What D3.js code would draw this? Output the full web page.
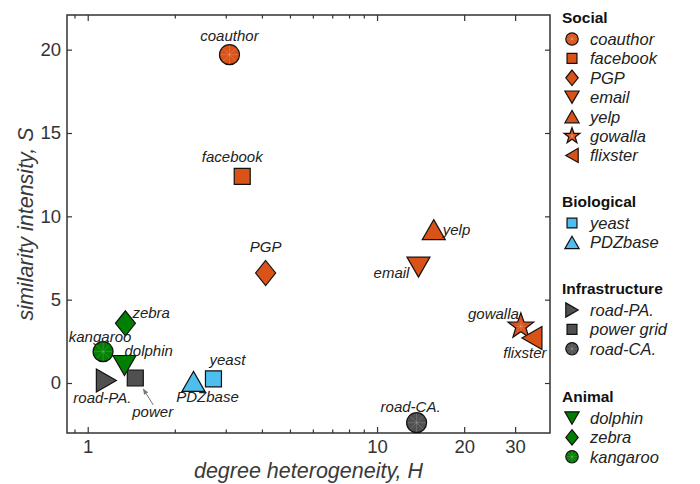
<!DOCTYPE html>
<html>
<head>
<meta charset="utf-8">
<script src="https://cdn.jsdelivr.net/npm/d3@7"></script>
<style>
  body { margin: 0; background: #fff; }
  svg text { font-family: "Liberation Sans", Arial, Helvetica, sans-serif; }
  .axis text { font-size: 18.5px; fill: #333; }
  .axis line { stroke: #333; stroke-width: 1.2; }
  .axis path { display: none; }
  .pt-label { font-size: 15px; font-style: italic; fill: #222; }
  .axis-title { font-size: 21.5px; font-style: italic; fill: #3a3a3a; }
  .leg-title { font-size: 15.5px; font-weight: bold; fill: #111; }
  .leg-item { font-size: 16.5px; font-style: italic; fill: #222; }
</style>
</head>
<body>
<div id="chart"></div>
<script>
// network data
const names = ['coauthor', 'facebook', 'PGP', 'email', 'yelp', 'gowalla', 'flixster',
    'yeast', 'PDZbase',
    'road-PA.', 'power', 'road-CA.',
    'dolphin', 'zebra', 'kangaroo'];
const groups = ['Social', 'Social', 'Social', 'Social', 'Social', 'Social', 'Social',
    'Biological', 'Biological',
    'Infrastructure', 'Infrastructure', 'Infrastructure',
    'Animal', 'Animal', 'Animal'];
const hetero = [3.09, 3.42, 4.12, 13.9, 15.7, 31.4, 34.3,
    2.72, 2.32,
    1.16, 1.46, 13.7,
    1.34, 1.35, 1.13];
const similarity = [19.7, 12.4, 6.6, 6.95, 9.2, 3.4, 2.7,
    0.25, 0.1,
    0.15, 0.3, -2.38,
    1.05, 3.58, 1.88];
const shapes = ['circle', 'square', 'diamond', 'tri-down', 'tri-up', 'star', 'tri-left',
    'square', 'tri-up',
    'tri-right', 'square', 'circle',
    'tri-down', 'diamond', 'circle'];

const groupNames = ['Social', 'Biological', 'Infrastructure', 'Animal'];
const groupColors = ['#d95319', '#4dbeee', '#505050', '#007f00'];
const legendNames = {
    Social: ['coauthor', 'facebook', 'PGP', 'email', 'yelp', 'gowalla', 'flixster'],
    Biological: ['yeast', 'PDZbase'],
    Infrastructure: ['road-PA.', 'power grid', 'road-CA.'],
    Animal: ['dolphin', 'zebra', 'kangaroo']
};
const legendShapes = {
    Social: ['circle', 'square', 'diamond', 'tri-down', 'tri-up', 'star', 'tri-left'],
    Biological: ['square', 'tri-up'],
    Infrastructure: ['tri-right', 'square', 'circle'],
    Animal: ['tri-down', 'diamond', 'circle']
};

const xMajor = [1, 10, 20, 30];
const xMinor = [0.9, 2, 3, 4, 5, 6, 7, 8, 9];
const yTicks = [0, 5, 10, 15, 20];

// label placement around each point: [dx, dy, anchor]
const labelPos = {
    'coauthor': [0, -14, 'middle'], 'facebook': [-10, -14, 'middle'], 'PGP': [0, -21, 'middle'],
    'email': [-9, 11, 'end'], 'yelp': [9, 5, 'start'], 'gowalla': [-2, -7, 'end'],
    'flixster': [-7, 20, 'middle'], 'yeast': [-4, -14, 'start'], 'PDZbase': [14, 21, 'middle'],
    'road-PA.': [-4, 22, 'middle'], 'power': [-3, 39, 'start'], 'road-CA.': [-6, -11, 'middle'],
    'dolphin': [0, -10, 'start'], 'zebra': [7, -5, 'start'], 'kangaroo': [-3, -10, 'middle']
};

const W = 700, H = 484;
const plot = {left: 67, right: 550, top: 15, bottom: 433};

const svg = d3.select('#chart').append('svg')
    .attr('width', W)
    .attr('height', H);

const xScale = d3.scaleLog().domain([0.848, 39.6]).range([plot.left, plot.right]);
const yScale = d3.scaleLinear().domain([-3, 22.08]).range([plot.bottom, plot.top]);

// marker path generator, k scales the whole marker
function markerPath(shape, k) {
    const p = d3.path();
    if (shape === 'circle') {
        const r = 10 * k;
        p.arc(0, 0, r, 0, 2 * Math.PI);
    } else if (shape === 'square') {
        const s = 8 * k;
        p.rect(-s, -s, 2 * s, 2 * s);
    } else if (shape === 'diamond') {
        const w = 10 * k, h = 12.5 * k;
        p.moveTo(0, -h); p.lineTo(w, 0); p.lineTo(0, h); p.lineTo(-w, 0); p.closePath();
    } else if (shape === 'tri-up' || shape === 'tri-down') {
        const w = 11.5 * k, h = 10 * k, s = shape === 'tri-up' ? 1 : -1;
        p.moveTo(0, -h * s); p.lineTo(w, h * s); p.lineTo(-w, h * s); p.closePath();
    } else if (shape === 'tri-left' || shape === 'tri-right') {
        const w = 10 * k, h = 11.5 * k, s = shape === 'tri-right' ? 1 : -1;
        p.moveTo(w * s, 0); p.lineTo(-w * s, h); p.lineTo(-w * s, -h); p.closePath();
    } else if (shape === 'star') {
        const ro = 13.5 * k, ri = 5.4 * k;
        for (let i = 0; i < 10; i++) {
            const a = -Math.PI / 2 + i * Math.PI / 5;
            const r = i % 2 === 0 ? ro : ri;
            if (i === 0) p.moveTo(r * Math.cos(a), r * Math.sin(a));
            else p.lineTo(r * Math.cos(a), r * Math.sin(a));
        }
        p.closePath();
    }
    return p.toString();
}

function drawMarker(g, shape, color, k) {
    g.append('path')
        .attr('d', markerPath(shape, k))
        .attr('fill', color)
        .attr('stroke', '#111')
        .attr('stroke-width', 1.2)
        .attr('stroke-linejoin', 'miter');
    // faint spokes like the original rendering of round / star markers
    if (shape === 'circle' || shape === 'star') {
        const r = (shape === 'circle' ? 9 : 5) * k;
        for (let i = 0; i < 8; i++) {
            const a = i * Math.PI / 4;
            g.append('line')
                .attr('x1', 0).attr('y1', 0)
                .attr('x2', r * Math.cos(a)).attr('y2', r * Math.sin(a))
                .attr('stroke', '#fff')
                .attr('stroke-opacity', 0.22)
                .attr('stroke-width', 0.8);
        }
    }
}

// axes
const chart = svg.append('g');

chart.append('g').attr('class', 'axis')
    .attr('transform', `translate(0,${plot.bottom})`)
    .call(d3.axisBottom(xScale).tickValues(xMajor).tickSize(-6).tickPadding(7).tickFormat(d3.format('d')));
chart.append('g').attr('class', 'axis')
    .attr('transform', `translate(0,${plot.bottom})`)
    .call(d3.axisBottom(xScale).tickValues(xMinor).tickSize(-3.5).tickFormat(''));
chart.append('g').attr('class', 'axis')
    .attr('transform', `translate(0,${plot.top})`)
    .call(d3.axisTop(xScale).tickValues(xMajor).tickSize(-6).tickFormat(''));
chart.append('g').attr('class', 'axis')
    .attr('transform', `translate(0,${plot.top})`)
    .call(d3.axisTop(xScale).tickValues(xMinor).tickSize(-3.5).tickFormat(''));

chart.append('g').attr('class', 'axis')
    .attr('transform', `translate(${plot.left},0)`)
    .call(d3.axisLeft(yScale).tickValues(yTicks).tickSize(-5).tickPadding(6));
chart.append('g').attr('class', 'axis')
    .attr('transform', `translate(${plot.right},0)`)
    .call(d3.axisRight(yScale).tickValues(yTicks).tickSize(-5).tickFormat(''));

chart.append('rect')
    .attr('x', plot.left).attr('y', plot.top)
    .attr('width', plot.right - plot.left)
    .attr('height', plot.bottom - plot.top)
    .attr('fill', 'none')
    .attr('stroke', '#333')
    .attr('stroke-width', 1.5);

// axis titles
svg.append('text')
    .attr('class', 'axis-title')
    .attr('x', (plot.left + plot.right) / 2)
    .attr('y', 478)
    .attr('text-anchor', 'middle')
    .text('degree heterogeneity, H');

svg.append('text')
    .attr('class', 'axis-title')
    .attr('transform', `translate(33,${(plot.top + plot.bottom) / 2}) rotate(-90)`)
    .attr('text-anchor', 'middle')
    .text('similarity intensity, S');

// points
const pts = names.map((n, i) => ({
    name: n, group: groups[i], H: hetero[i], S: similarity[i], shape: shapes[i],
    color: groupColors[groupNames.indexOf(groups[i])]
}));

const marks = chart.append('g');
pts.forEach(d => {
    const g = marks.append('g')
        .attr('transform', `translate(${xScale(d.H)},${yScale(d.S)})`);
    drawMarker(g, d.shape, d.color, 1);
});

// little arrow pointing at the power grid marker
const pw = pts.find(d => d.name === 'power');
const px = xScale(pw.H), py = yScale(pw.S);
svg.append('defs').append('marker')
    .attr('id', 'arrowhead')
    .attr('viewBox', '0 0 10 10')
    .attr('refX', 9).attr('refY', 5)
    .attr('markerWidth', 6).attr('markerHeight', 6)
    .attr('orient', 'auto')
    .append('path')
    .attr('d', 'M0,1 L10,5 L0,9 z')
    .attr('fill', '#777');
chart.append('line')
    .attr('x1', px + 18).attr('y1', py + 27)
    .attr('x2', px + 8).attr('y2', py + 11)
    .attr('stroke', '#777')
    .attr('stroke-width', 1)
    .attr('marker-end', 'url(#arrowhead)');

const labels = chart.append('g');
pts.forEach(d => {
    const lp = labelPos[d.name];
    labels.append('text')
        .attr('class', 'pt-label')
        .attr('x', xScale(d.H) + lp[0])
        .attr('y', yScale(d.S) + lp[1])
        .attr('text-anchor', lp[2])
        .text(d.name);
});

// legend
const legend = svg.append('g');
const legTitleY = [23, 207, 294, 402];
const legMarkerX = 572, legTextX = 590, legStep = 19.4;
groupNames.forEach((gname, gi) => {
    legend.append('text')
        .attr('class', 'leg-title')
        .attr('x', 562)
        .attr('y', legTitleY[gi])
        .text(gname);
    legendNames[gname].forEach((n, i) => {
        const y = legTitleY[gi] + 16 + i * legStep;
        const g = legend.append('g').attr('transform', `translate(${legMarkerX},${y})`);
        drawMarker(g, legendShapes[gname][i], groupColors[gi], 0.62);
        legend.append('text')
            .attr('class', 'leg-item')
            .attr('x', legTextX)
            .attr('y', y + 6)
            .text(n);
    });
});
</script>
</body>
</html>
